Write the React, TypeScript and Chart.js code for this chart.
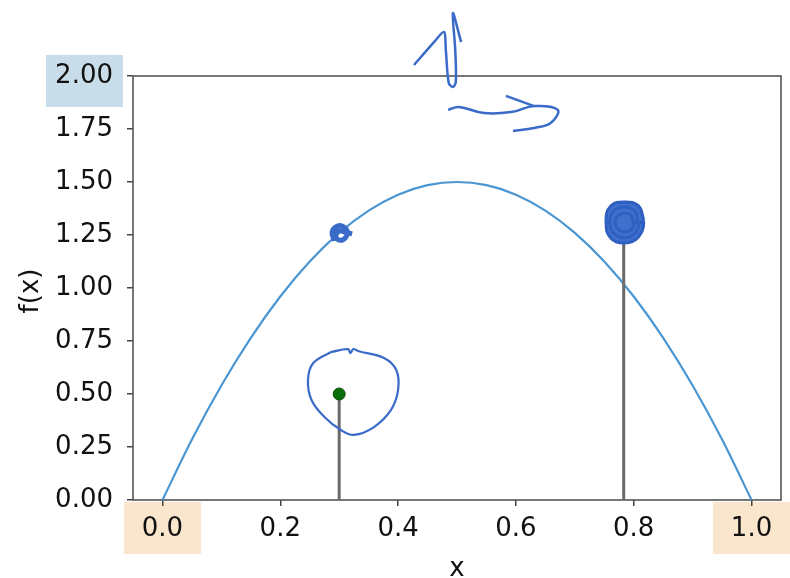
import React, { useEffect, useRef } from "react";
import { Chart, registerables } from "chart.js";

Chart.register(...registerables);

// ---------- data ----------
const curveX = [0, 0.05, 0.1, 0.15, 0.2, 0.25, 0.3, 0.35, 0.4, 0.45, 0.5, 0.55, 0.6, 0.65, 0.7, 0.75, 0.8, 0.85, 0.9, 0.95, 1.0];
const curveY = [0, 0.285, 0.54, 0.765, 0.96, 1.125, 1.26, 1.365, 1.44, 1.485, 1.5, 1.485, 1.44, 1.365, 1.26, 1.125, 0.96, 0.765, 0.54, 0.285, 0];

const stem1X = [0.3, 0.3];
const stem1Y = [0, 0.5];
const stem2X = [0.783, 0.783];
const stem2Y = [0, 1.25];
const dotX = [0.3];
const dotY = [0.5];

// hand-drawn annotations (ink), in data units
const circleX = [0.286, 0.315, 0.319, 0.324, 0.332, 0.376, 0.397, 0.4, 0.388, 0.359, 0.325, 0.303, 0.275, 0.253, 0.247, 0.256, 0.286];
const circleY = [0.698, 0.712, 0.693, 0.712, 0.703, 0.67, 0.613, 0.519, 0.425, 0.344, 0.307, 0.33, 0.392, 0.472, 0.566, 0.646, 0.698];

const smallLoopX = [0.292, 0.288, 0.297, 0.308, 0.314, 0.305, 0.295, 0.298, 0.31, 0.322];
const smallLoopY = [1.222, 1.264, 1.292, 1.288, 1.259, 1.226, 1.236, 1.269, 1.264, 1.255];

const blobX = [0.817, 0.808, 0.785, 0.761, 0.753, 0.761, 0.785, 0.808, 0.817];
const blobY = [1.321, 1.387, 1.406, 1.387, 1.311, 1.236, 1.212, 1.241, 1.321];

const spiralX = [0.817, 0.808, 0.785, 0.761, 0.753, 0.761, 0.785, 0.808, 0.817,
  0.808, 0.802, 0.785, 0.766, 0.759, 0.766, 0.785, 0.802, 0.808,
  0.8, 0.795, 0.785, 0.773, 0.768, 0.775, 0.785, 0.797, 0.8];
const spiralY = [1.321, 1.387, 1.406, 1.387, 1.311, 1.236, 1.212, 1.241, 1.311,
  1.311, 1.363, 1.382, 1.363, 1.311, 1.259, 1.236, 1.259, 1.302,
  1.311, 1.344, 1.354, 1.34, 1.307, 1.274, 1.264, 1.278, 1.311];

const upArrowX = [0.427, 0.461, 0.478, 0.481, 0.486, 0.493, 0.498, 0.497, 0.493, 0.507];
const upArrowY = [2.052, 2.16, 2.208, 2.123, 1.967, 1.948, 1.972, 2.123, 2.297, 2.16];

const rightArrowX = [0.485, 0.503, 0.546, 0.592, 0.631, 0.671, 0.659, 0.631, 0.595];
const rightArrowY = [1.84, 1.854, 1.825, 1.83, 1.858, 1.84, 1.778, 1.755, 1.741];
const rightHeadX = [0.583, 0.631];
const rightHeadY = [1.906, 1.858];

const xTicks = [0, 0.2, 0.4, 0.6, 0.8, 1.0];
const yTicks = [0, 0.25, 0.5, 0.75, 1.0, 1.25, 1.5, 1.75, 2.0];
const highlightX = [0, 1.0];
const highlightY = [2.0];

const xTitle = "x";
const yTitle = "f(x)";

const pts = (xs: number[], ys: number[]) => xs.map((x, i) => ({ x, y: ys[i] }));

const FONT = "'DejaVu Sans', sans-serif";
const INK = "#3a6bc9";
const TEXT = "#111";

const decorPlugin = {
  id: "decor",
  beforeDraw(chart: any) {
    const { ctx, chartArea, scales } = chart;
    ctx.save();
    ctx.fillStyle = "#c9dce9";
    highlightY.forEach((v) => {
      const py = scales.y.getPixelForValue(v);
      ctx.fillRect(chartArea.left - 87, py - 21, 77, 52);
    });
    ctx.fillStyle = "#fae5cd";
    highlightX.forEach((v) => {
      const px = scales.x.getPixelForValue(v);
      ctx.fillRect(px - 38.5, chartArea.bottom + 2, 77, 52);
    });
    ctx.restore();
  },
  beforeDatasetsDraw(chart: any) {
    const { ctx, chartArea } = chart;
    ctx.save();
    ctx.strokeStyle = "#555";
    ctx.lineWidth = 1.6;
    ctx.strokeRect(chartArea.left, chartArea.top, chartArea.right - chartArea.left, chartArea.bottom - chartArea.top);
    ctx.restore();
  },
  afterDraw(chart: any) {
    const { ctx, chartArea } = chart;
    ctx.save();
    ctx.fillStyle = TEXT;
    ctx.font = `26px ${FONT}`;
    ctx.textAlign = "center";
    ctx.textBaseline = "alphabetic";
    ctx.fillText(xTitle, (chartArea.left + chartArea.right) / 2, 576);
    ctx.translate(31, (chartArea.top + chartArea.bottom) / 2 + 3);
    ctx.rotate(-Math.PI / 2);
    ctx.textBaseline = "middle";
    ctx.fillText(yTitle, 0, 0);
    ctx.restore();
  },
};

export default function App() {
  const ref = useRef<HTMLCanvasElement | null>(null);
  useEffect(() => {
    if (!ref.current) return;
    const line = (data: any, color: string, width: number, extra: any = {}) => ({
      data,
      borderColor: color,
      backgroundColor: color,
      borderWidth: width,
      pointRadius: 0,
      showLine: true,
      fill: false,
      clip: false,
      ...extra,
    });
    const chart = new Chart(ref.current, {
      type: "line",
      data: {
        datasets: [
          line(pts(upArrowX, upArrowY), INK, 2.5, { tension: 0.3 }),
          line(pts(rightArrowX, rightArrowY), INK, 2.5, { tension: 0.4 }),
          line(pts(rightHeadX, rightHeadY), INK, 2.5),
          line(pts(spiralX, spiralY), "#2f5fc0", 3, { tension: 0.45 }),
          line(pts(blobX, blobY), INK, 2, { tension: 0.45, fill: "shape", backgroundColor: "#3f70cc" }),
          line(pts(smallLoopX, smallLoopY), INK, 5, { tension: 0.4 }),
          line(pts(circleX, circleY), INK, 2.2, { tension: 0.4 }),
          {
            data: pts(dotX, dotY),
            showLine: false,
            pointRadius: 6,
            pointBackgroundColor: "#0a6e0a",
            pointBorderColor: "#064d06",
            pointBorderWidth: 1,
          },
          line(pts(stem1X, stem1Y), "#6a6a6a", 3),
          line(pts(stem2X, stem2Y), "#6a6a6a", 3),
          line(pts(curveX, curveY), "#4a96d2", 2.2, { cubicInterpolationMode: "monotone" }),
        ],
      },
      options: {
        responsive: false,
        animation: false,
        devicePixelRatio: 1,
        layout: { padding: { top: 76, right: 9, left: 0, bottom: 0 } },
        plugins: { legend: { display: false }, tooltip: { enabled: false } },
        events: [],
        scales: {
          x: {
            type: "linear",
            min: -0.05,
            max: 1.05,
            afterFit: (s: any) => { s.height = 78; },
            afterBuildTicks: (s: any) => { s.ticks = xTicks.map((v) => ({ value: v })); },
            border: { display: false },
            grid: { drawOnChartArea: false, drawTicks: true, tickLength: 6, color: "#444", lineWidth: 1.5 },
            ticks: {
              font: { family: FONT, size: 26 },
              color: TEXT,
              padding: 8,
              maxRotation: 0,
              autoSkip: false,
              callback: (v: any) => Number(v).toFixed(1),
            },
          },
          y: {
            type: "linear",
            min: 0,
            max: 2,
            afterFit: (s: any) => { s.width = 133; },
            afterBuildTicks: (s: any) => { s.ticks = yTicks.map((v) => ({ value: v })); },
            border: { display: false },
            grid: { drawOnChartArea: false, drawTicks: true, tickLength: 6, color: "#444", lineWidth: 1.5 },
            ticks: {
              font: { family: FONT, size: 26 },
              color: TEXT,
              padding: 14,
              autoSkip: false,
              callback: (v: any) => Number(v).toFixed(2),
            },
          },
        },
      },
      plugins: [decorPlugin],
    } as any);
    return () => chart.destroy();
  }, []);
  return (
    <div style={{ position: "absolute", left: 0, top: 0, width: 790, height: 578 }}>
      <canvas ref={ref} width={790} height={578} />
    </div>
  );
}
